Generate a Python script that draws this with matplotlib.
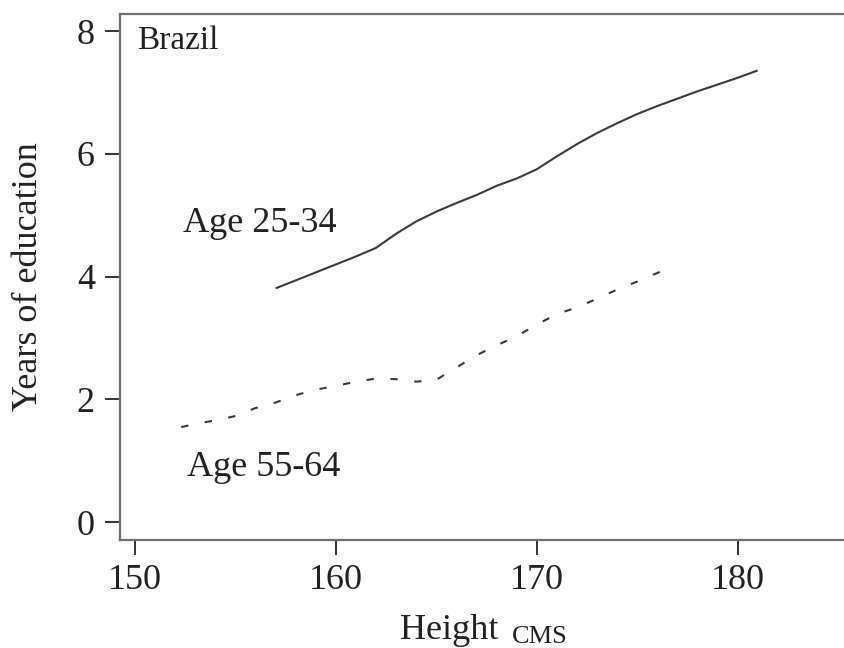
import matplotlib
matplotlib.use("Agg")
import matplotlib.pyplot as plt

# Mean years of education by height, Brazil
height_young = [157, 158, 159, 160, 161, 162, 163, 164, 165, 166, 167, 168, 169,
                170, 171, 172, 173, 174, 175, 176, 177, 178, 179, 180, 181]
educ_young = [3.81, 3.94, 4.07, 4.20, 4.33, 4.47, 4.70, 4.90, 5.06, 5.20, 5.33, 5.48, 5.60,
              5.75, 5.96, 6.16, 6.34, 6.50, 6.65, 6.78, 6.90, 7.02, 7.13, 7.24, 7.36]

height_old = [152.3, 153, 154, 155, 156, 157, 158, 159, 160, 161, 162, 163, 164, 165,
              166, 167, 168, 169, 170, 171, 172, 173, 174, 175, 176, 176.7]
educ_old = [1.55, 1.60, 1.66, 1.73, 1.86, 1.95, 2.07, 2.16, 2.22, 2.29, 2.34, 2.33, 2.29, 2.32,
            2.52, 2.72, 2.88, 3.03, 3.22, 3.39, 3.50, 3.64, 3.79, 3.92, 4.06, 4.16]

x_ticks = [150, 160, 170, 180]
y_ticks = [0, 2, 4, 6, 8]

plt.rcParams["font.family"] = ["Liberation Serif", "DejaVu Serif"]

W, H = 844, 648
fig = plt.figure(figsize=(W / 100, H / 100), dpi=100)
ax = fig.add_axes([120 / W, 1 - 540 / H, 1 - 120 / W, (540 - 14) / H])

ax.plot(height_young, educ_young, color="#3a3a3a", lw=1.5, solid_capstyle="butt")
ax.plot(height_old, educ_old, color="#3a3a3a", lw=1.5, linestyle=(0, (3.5, 8.0)))

ax.set_xlim(149.25, 185.3)
ax.set_ylim(-0.29, 8.28)
ax.set_xticks(x_ticks)
ax.set_yticks(y_ticks)

for side in ("left", "bottom", "top"):
    ax.spines[side].set_color("#6e6e6e")
    ax.spines[side].set_linewidth(1.6)
ax.spines["right"].set_visible(False)

ax.tick_params(axis="both", direction="out", length=11, width=1.4, color="#333333",
               labelsize=26, labelcolor="#222222")
ax.tick_params(axis="x", pad=6)
ax.tick_params(axis="y", pad=7)

ax.text(150.1, 7.71, "Brazil", fontsize=24, color="#222222", ha="left", va="baseline")
ax.text(152.39, 4.73, "Age 25-34", fontsize=26, color="#222222", ha="left", va="baseline")
ax.text(152.59, 0.76, "Age 55-64", fontsize=26, color="#222222", ha="left", va="baseline")

fig.text(28.5 / W, 1 - 277 / H, "Years of education", rotation=90, fontsize=26,
         color="#222222", ha="center", va="center")
fig.text(400 / W, 9 / H, "Height", fontsize=26, color="#222222", ha="left", va="baseline")
fig.text(512 / W, 5 / H, "CMS", fontsize=19, color="#222222", ha="left", va="baseline")

fig.savefig("out.png", dpi=100)
